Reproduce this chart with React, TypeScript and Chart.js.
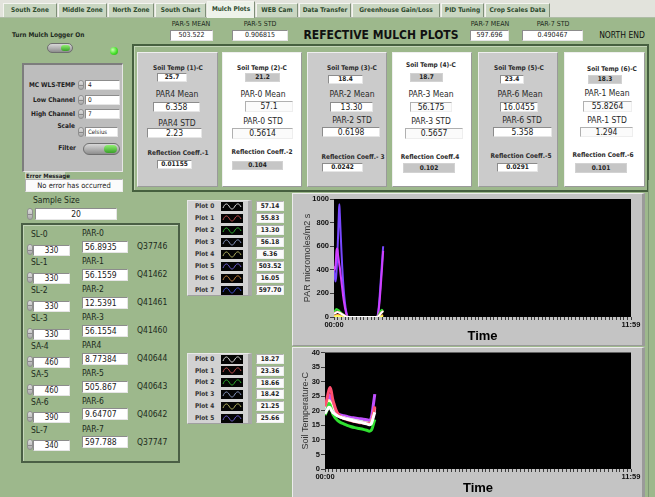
import React, { useEffect, useRef } from 'react';
import { Chart, registerables } from 'chart.js';
Chart.register(...registerables);

const FONT = '"DejaVu Sans Condensed", "DejaVu Sans", "Liberation Sans", sans-serif';
const GREEN = '#9db88c';
const TXT = '#1f2a1f';

// ---------- PAR chart data (minutes from 00:00) ----------
const PAR_TIME = [0, 2, 4, 6, 8, 10, 12, 13, 14, 16, 18, 20, 22, 25, 28, 31, 34, 40, 60, 80, 100, 104, 107, 110, 113, 116, 119];
const PAR_P0 = [25, 30, 35, 40, 42, 40, 38, 36, 34, 30, 26, 22, 18, 12, 6, 2, 0, 0, 0, 0, 0, 0, 5, 15, 28, 40, 50];
const PAR_P1 = [30, 34, 38, 42, 45, 43, 40, 38, 36, 32, 28, 24, 19, 13, 7, 3, 0, 0, 0, 0, 0, 0, 6, 16, 30, 42, 52];
const PAR_P2 = [40, 50, 60, 68, 65, 60, 55, 50, 46, 40, 34, 28, 22, 14, 7, 3, 0, 0, 0, 0, 0, 0, 10, 30, 50, 62, 45];
const PAR_P3 = [32, 36, 40, 45, 47, 45, 42, 40, 37, 33, 29, 24, 19, 13, 7, 3, 0, 0, 0, 0, 0, 0, 6, 17, 31, 44, 54];
const PAR_P4 = [4, 5, 6, 7, 8, 7, 7, 6, 6, 5, 4, 3, 2, 1, 1, 0, 0, 0, 0, 0, 0, 0, 1, 2, 4, 5, 6];
const PAR_P5 = [430, 400, 450, 560, 580, 520, 470, 440, 420, 360, 300, 240, 180, 110, 55, 15, 0, 0, 0, 0, 0, 0, 30, 120, 250, 400, 560];
const PAR_P6 = [10, 12, 14, 16, 18, 17, 16, 15, 14, 12, 10, 8, 6, 4, 2, 1, 0, 0, 0, 0, 0, 0, 2, 5, 9, 13, 16];
const PAR_P7 = [400, 330, 300, 380, 520, 700, 900, 955, 880, 720, 560, 420, 300, 170, 80, 25, 0, 0, 0, 0, 0, 0, 40, 150, 300, 450, 600];
const PAR_SERIES = [PAR_P0, PAR_P1, PAR_P2, PAR_P3, PAR_P4, PAR_P5, PAR_P6, PAR_P7];
const PAR_COLORS = ['#ffffff', '#ff5050', '#30e030', '#a0b8ff', '#ffff60', '#d040ff', '#ff9a40', '#7848ff'];
const PAR_LEGEND_VALUES = ['57.14', '55.83', '13.30', '56.18', '6.36', '503.52', '16.05', '597.70'];

// ---------- Soil temperature chart data ----------
const TEMP_TIME = [0, 3, 6, 9, 12, 15, 18, 22, 26, 30, 36, 44, 52, 60, 70, 80, 90, 98, 104, 108, 111, 114, 117];
const TEMP_P0 = [19.0, 19.8, 20.5, 21.2, 21.0, 20.2, 19.5, 19.0, 18.6, 18.2, 17.8, 17.4, 17.1, 16.8, 16.4, 16.1, 15.8, 15.5, 15.2, 15.4, 16.5, 18.0, 19.5];
const TEMP_P1 = [21.5, 23.0, 25.0, 27.0, 28.0, 26.5, 24.0, 22.0, 20.2, 19.0, 18.0, 17.4, 17.0, 16.6, 16.3, 16.0, 15.8, 15.6, 15.5, 15.9, 17.2, 19.2, 21.5];
const TEMP_P2 = [18.5, 19.5, 21.0, 22.5, 22.0, 20.5, 19.0, 18.0, 17.2, 16.6, 16.0, 15.5, 15.0, 14.6, 14.2, 13.9, 13.6, 13.3, 13.0, 13.2, 14.0, 15.5, 17.0];
const TEMP_P3 = [19.5, 20.5, 21.5, 22.0, 21.5, 20.5, 19.8, 19.2, 18.7, 18.3, 17.9, 17.5, 17.2, 16.9, 16.6, 16.3, 16.0, 15.7, 15.5, 15.8, 17.0, 18.8, 20.5];
const TEMP_P4 = [20.0, 21.0, 22.5, 23.5, 23.0, 21.8, 20.5, 19.6, 19.0, 18.5, 18.0, 17.6, 17.3, 17.0, 16.7, 16.4, 16.1, 15.9, 15.7, 16.0, 17.2, 19.0, 21.0];
const TEMP_P5 = [20.5, 22.0, 24.0, 25.5, 25.0, 23.0, 21.5, 20.3, 19.5, 19.0, 18.6, 18.3, 18.0, 17.7, 17.5, 17.3, 17.1, 16.9, 16.7, 17.2, 19.3, 22.5, 25.7];
const TEMP_SERIES = [TEMP_P0, TEMP_P1, TEMP_P2, TEMP_P3, TEMP_P4, TEMP_P5];
const TEMP_COLORS = ['#ffffff', '#ff5070', '#30e030', '#c8d4ff', '#ffffc8', '#c050ff'];
const TEMP_LEGEND_VALUES = ['18.27', '23.36', '18.66', '18.42', '21.25', '25.66'];
const LEGEND_SWATCH = ['#d8d8d8', '#c05050', '#30b030', '#8898c0', '#b0b060', '#7060d0', '#c08040', '#4050d0'];

// ---------- axis ----------
const X_TICK_LABELS = ['00:00', '11:59'];
const X_END = 719;
const X_MINOR: number[] = [];
for (let m = 0; m < X_END - 4; m += 9) X_MINOR.push(m);
X_MINOR.push(X_END);

// ---------- panel texts ----------
const TABS = ['South Zone', 'Middle Zone', 'North Zone', 'South Chart', 'Mulch Plots', 'WEB Cam', 'Data Transfer', 'Greenhouse  Gain/Loss', 'PID Tuning', 'Crop Scales Data'];
const TAB_EDGES = [3, 58, 108, 155, 207, 256, 299, 352, 441, 485, 551];
const ACTIVE_TAB = 4;

const SOIL_LABELS = ['Soil Temp (1)-C', 'Soil Temp (2)-C', 'Soil Temp (3)-C', 'Soil Temp (4)-C', 'Soil Temp (5)-C', 'Soil Temp (6)-C'];
const SOIL_VALUES = ['25.7', '21.2', '18.4', '18.7', '23.4', '18.3'];
const MEAN_LABELS = ['PAR4 Mean', 'PAR-0 Mean', 'PAR-2 Mean', 'PAR-3 Mean', 'PAR-6 Mean', 'PAR-1 Mean'];
const MEAN_VALUES = ['6.358', '57.1', '13.30', '56.175', '16.0455', '55.8264'];
const STD_LABELS = ['PAR4 STD', 'PAR-0 STD', 'PAR-2 STD', 'PAR-3 STD', 'PAR-6 STD', 'PAR-1 STD'];
const STD_VALUES = ['2.23', '0.5614', '0.6198', '0.5657', '5.358', '1.294'];
const REFL_LABELS = ['Reflection Coeff.-1', 'Reflection Coeff.-2', 'Reflection Coeff.- 3', 'Reflection Coeff.4', 'Reflection Coeff.-5', 'Reflection Coeff.-6'];
const REFL_VALUES = ['0.01155', '0.104', '0.0242', '0.102', '0.0291', '0.101'];

const SL_LABELS = ['SL-0', 'SL-1', 'SL-2', 'SL-3', 'SA-4', 'SA-5', 'SA-6', 'SL-7'];
const SL_VALUES = ['330', '330', '330', '330', '460', '460', '390', '340'];
const PAR_LABELS = ['PAR-0', 'PAR-1', 'PAR-2', 'PAR-3', 'PAR4', 'PAR-5', 'PAR-6', 'PAR-7'];
const PAR_VALUES = ['56.8935', '56.1559', '12.5391', '56.1554', '8.77384', '505.867', '9.64707', '597.788'];
const Q_LABELS = ['Q37746', 'Q41462', 'Q41461', 'Q41460', 'Q40644', 'Q40643', 'Q40642', 'Q37747'];

// ---------- card layout ----------
const CARD_LEFT = [137, 222, 307, 392, 478, 564];
const CARD_W = [81, 80, 80, 80, 80, 81];
const SOIL_LBL = [[178, 68], [262, 68], [352, 68], [431, 65], [519, 68], [612, 69]];
const SOIL_BOX = [[157, 73, 30, 9], [245, 73, 35, 9], [328, 75, 35, 9], [410, 73, 33, 9], [500, 75, 24, 9], [588, 75, 34, 9]];
const MEAN_LBL = [[177, 95], [263, 95], [352, 95], [431, 95], [520, 95], [607, 94]];
const MEAN_BOX = [[153, 102, 47, 10], [245, 101, 48, 11], [330, 102, 43, 10], [410, 102, 42, 10], [500, 102, 38, 10], [583, 101, 49, 11]];
const STD_LBL = [[177, 124], [263, 122], [352, 121], [431, 122], [522, 121], [607, 121]];
const STD_BOX = [[147, 128, 55, 10], [232, 128, 61, 11], [322, 127, 58, 10], [405, 128, 58, 11], [493, 127, 59, 10], [580, 127, 53, 10]];
const REFL_LBL = [[178, 153], [262, 152], [353, 157], [430, 157], [521, 156], [603, 155]];
const REFL_BOX = [[157, 160, 35, 9], [232, 161, 51, 9], [322, 163, 41, 9], [403, 163, 52, 10], [497, 163, 41, 9], [575, 163, 52, 10]];

type CSS = React.CSSProperties;

function Txt(props: { x: number; y: number; text: string; size?: number; bold?: boolean; align?: 'left' | 'center' | 'right'; color?: string; font?: string; w?: number }) {
  const { x, y, text, size = 8, bold = false, align = 'left', color = TXT, font = FONT, w = 200 } = props;
  let left = x;
  if (align === 'center') left = x - w / 2;
  if (align === 'right') left = x - w;
  const h = size * 1.3;
  return (
    <div style={{ position: 'absolute', left, top: y - h / 2, width: w, height: h, lineHeight: `${h}px`, fontSize: size, fontWeight: bold ? 700 : 400, textAlign: align, color, fontFamily: font, whiteSpace: 'nowrap' }}>{text}</div>
  );
}

function VBox(props: { x: number; y: number; w: number; h: number; text: string; kind?: 'ctrl' | 'ind' | 'gray'; size?: number; bold?: boolean; align?: 'left' | 'center' | 'right'; pad?: number }) {
  const { x, y, w, h, text, kind = 'ctrl', size = 7, bold = false, align = 'center', pad = 2 } = props;
  let st: CSS = {};
  if (kind === 'ctrl') st = { background: '#ffffff', borderTop: '1px solid #8c8c8c', borderLeft: '1px solid #8c8c8c', borderRight: '1px solid #e6e6e6', borderBottom: '1px solid #e6e6e6' };
  if (kind === 'ind') st = { background: '#fbfbfb', borderTop: '1px solid #b0b0b0', borderLeft: '1px solid #b0b0b0', borderRight: '1px solid #eeeeee', borderBottom: '1px solid #eeeeee' };
  if (kind === 'gray') st = { background: '#c6c6c6', border: '1px solid #d2d2d2' };
  return (
    <div style={{ position: 'absolute', left: x, top: y, width: w, height: h, boxSizing: 'border-box', ...st, fontFamily: FONT, fontSize: size, fontWeight: bold ? 700 : 400, color: '#222', textAlign: align, lineHeight: `${h - 2}px`, paddingLeft: align === 'left' ? pad : 0, whiteSpace: 'nowrap', overflow: 'hidden' }}>{text}</div>
  );
}

function Spin({ x, y, h }: { x: number; y: number; h: number }) {
  return (
    <div style={{ position: 'absolute', left: x, top: y, width: 6, height: h, boxSizing: 'border-box', border: '1px solid #8f8f8f', borderRadius: 3, background: 'linear-gradient(#e0e0e0,#a8a8a8)' }}>
      <div style={{ position: 'absolute', left: 0, right: 0, top: h / 2 - 1, height: 1, background: '#888' }} />
    </div>
  );
}

function Toggle({ x, y, w, h }: { x: number; y: number; w: number; h: number }) {
  return (
    <div style={{ position: 'absolute', left: x, top: y, width: w, height: h, boxSizing: 'border-box', borderRadius: h / 2, border: '1px solid #6f6f6f', background: 'linear-gradient(#d8d8d8,#8e8e8e)' }}>
      <div style={{ position: 'absolute', right: 2, top: 1, width: w * 0.35, height: h - 4, borderRadius: (h - 4) / 2, background: 'linear-gradient(#8ff070,#3aa02a)' }} />
    </div>
  );
}

function Swatch({ color }: { color: string }) {
  return (
    <svg width={22} height={9} style={{ display: 'block', background: '#050505' }}>
      <path d="M2,6 C4,1 6,1 8,4 C10,8 12,8 14,4 C16,1 18,1 20,5" stroke={color} strokeWidth={1} fill="none" />
    </svg>
  );
}

function Legend({ x, y, rows, step, values }: { x: number; y: number; rows: number; step: number; values: string[] }) {
  const h = rows * step;
  const items = [];
  for (let i = 0; i < rows; i++) {
    const cy = y + 6 + i * step;
    items.push(
      <React.Fragment key={i}>
        <Txt x={x + 8} y={cy} text={`Plot ${i}`} size={6.5} bold color="#333" />
        <div style={{ position: 'absolute', left: x + 34, top: cy - 4.5 }}><Swatch color={LEGEND_SWATCH[i]} /></div>
        <VBox x={x + 69} y={cy - 5} w={28} h={10} text={values[i]} kind="ind" size={6.5} bold />
      </React.Fragment>
    );
  }
  return (
    <>
      <div style={{ position: 'absolute', left: x, top: y, width: 65, height: h, boxSizing: 'border-box', background: '#d2d2d2', borderTop: '1px solid #e8e8e8', borderLeft: '1px solid #e8e8e8', borderRight: '4px solid #a9a9a9', borderBottom: '1px solid #a0a0a0' }} />
      {items}
    </>
  );
}

const blackArea = {
  id: 'blackArea',
  beforeDraw(chart: any) {
    const { ctx, chartArea } = chart;
    if (!chartArea) return;
    ctx.save();
    ctx.fillStyle = '#000000';
    ctx.fillRect(chartArea.left, chartArea.top, chartArea.right - chartArea.left, chartArea.bottom - chartArea.top);
    ctx.restore();
  },
};

type ChartProps = { left: number; top: number; w: number; h: number; times: number[]; series: number[][]; colors: string[]; yMax: number; yStep: number; yTitle: string; yWidth: number; padTop: number; yTitlePad: number; lineWidth: number };

function LvChart(p: ChartProps) {
  const ref = useRef<HTMLCanvasElement>(null);
  useEffect(() => {
    const el = ref.current;
    if (!el) return;
    const chart = new Chart(el, {
      type: 'line',
      data: {
        datasets: p.series.map((s, i) => ({
          label: `Plot ${i}`,
          data: s.map((v, j) => ({ x: p.times[j], y: v })),
          borderColor: p.colors[i],
          backgroundColor: p.colors[i],
          borderWidth: p.lineWidth,
          pointRadius: 0,
          cubicInterpolationMode: 'monotone' as const,
          fill: false,
        })),
      },
      options: {
        animation: false,
        responsive: false,
        maintainAspectRatio: false,
        layout: { padding: { top: p.padTop, right: 12, left: 0, bottom: 0 } },
        plugins: { legend: { display: false }, tooltip: { enabled: false } },
        scales: {
          x: {
            type: 'linear',
            min: 0,
            max: X_END,
            afterBuildTicks: (axis: any) => { axis.ticks = X_MINOR.map((v) => ({ value: v })); },
            afterFit: (s: any) => { s.height = 28; },
            grid: { display: true, drawOnChartArea: false, tickLength: 3, color: '#3c3c3c', lineWidth: 1 },
            border: { display: false },
            ticks: {
              autoSkip: false,
              maxRotation: 0,
              padding: 0,
              color: '#111',
              font: { family: '"Liberation Sans", sans-serif', size: 7.5, weight: 'bold' },
              callback: (v: any) => (v === 0 ? X_TICK_LABELS[0] : v === X_END ? X_TICK_LABELS[1] : ''),
            },
            title: { display: true, text: 'Time', color: '#000', font: { family: '"Liberation Sans", sans-serif', size: 13, weight: 'bold' }, padding: { top: 0, bottom: 1 } },
          },
          y: {
            type: 'linear',
            min: 0,
            max: p.yMax,
            afterFit: (s: any) => { s.width = p.yWidth; },
            grid: { display: true, drawOnChartArea: false, tickLength: 4, color: '#3c3c3c' },
            border: { display: false },
            ticks: { stepSize: p.yStep, padding: 1, color: '#111', font: { family: '"Liberation Sans", sans-serif', size: 7.5, weight: 'bold' }, callback: (v: any) => String(v) },
            title: { display: true, text: p.yTitle, color: '#333', font: { family: '"Liberation Sans", sans-serif', size: 9 }, padding: { top: p.yTitlePad, bottom: 0 } },
          },
        },
      },
      plugins: [blackArea],
    } as any);
    return () => chart.destroy();
  }, []);
  return <canvas ref={ref} width={p.w} height={p.h} style={{ position: 'absolute', left: p.left, top: p.top, width: p.w, height: p.h }} />;
}

export default function App() {
  const cards = CARD_LEFT.map((left, i) => {
    const white = i % 2 === 1;
    const sb = SOIL_BOX[i], mb = MEAN_BOX[i], tb = STD_BOX[i], rb = REFL_BOX[i];
    return (
      <React.Fragment key={i}>
        <div style={{ position: 'absolute', left, top: 52, width: CARD_W[i], height: 135, boxSizing: 'border-box', background: white ? '#ffffff' : '#cbcbcb', borderTop: '1px solid #efefef', borderLeft: '1px solid #efefef', borderRight: '1px solid #9a9a9a', borderBottom: '1px solid #9a9a9a' }} />
        <Txt x={SOIL_LBL[i][0]} y={SOIL_LBL[i][1]} text={SOIL_LABELS[i]} size={6.5} bold align="center" w={80} color="#2a2a2a" />
        <VBox x={sb[0]} y={sb[1]} w={sb[2]} h={sb[3]} text={SOIL_VALUES[i]} kind={white ? 'gray' : 'ctrl'} size={6.5} bold />
        <Txt x={MEAN_LBL[i][0]} y={MEAN_LBL[i][1]} text={MEAN_LABELS[i]} size={8.5} align="center" w={80} color="#2a2a2a" />
        <VBox x={mb[0]} y={mb[1]} w={mb[2]} h={mb[3]} text={MEAN_VALUES[i]} kind={white ? 'ind' : 'ctrl'} size={8.5} />
        <Txt x={STD_LBL[i][0]} y={STD_LBL[i][1]} text={STD_LABELS[i]} size={8.5} align="center" w={80} color="#2a2a2a" />
        <VBox x={tb[0]} y={tb[1]} w={tb[2]} h={tb[3]} text={STD_VALUES[i]} kind={white ? 'ind' : 'ctrl'} size={8.5} />
        <Txt x={REFL_LBL[i][0]} y={REFL_LBL[i][1]} text={REFL_LABELS[i]} size={6.5} bold align="center" w={84} color="#2a2a2a" />
        <VBox x={rb[0]} y={rb[1]} w={rb[2]} h={rb[3]} text={REFL_VALUES[i]} kind={white ? 'gray' : 'ctrl'} size={6.5} bold />
      </React.Fragment>
    );
  });

  const rows = SL_LABELS.map((lbl, i) => {
    const by = 241 + i * 27.9;
    return (
      <React.Fragment key={i}>
        <Txt x={31} y={by - 6} text={lbl} size={8.5} color="#1c2a1c" />
        <Spin x={27} y={by + 3} h={11} />
        <VBox x={33} y={by + 4} w={37} h={11} text={SL_VALUES[i]} kind="ctrl" size={8} />
        <Txt x={82} y={by - 7} text={PAR_LABELS[i]} size={8.5} color="#1c2a1c" />
        <VBox x={82} y={by} w={46} h={12} text={PAR_VALUES[i]} kind="ctrl" size={8.5} align="left" pad={2} />
        <Txt x={137} y={by + 6} text={Q_LABELS[i]} size={8.5} color="#1c2a1c" />
      </React.Fragment>
    );
  });

  const tabs = TABS.map((t, i) => {
    const l = TAB_EDGES[i], r = TAB_EDGES[i + 1];
    const act = i === ACTIVE_TAB;
    return (
      <div key={i} style={{ position: 'absolute', left: l, top: act ? 1 : 3, width: r - l - 1, height: act ? 17 : 14, boxSizing: 'border-box', background: act ? '#eef3ea' : '#c9d6c1', borderTop: '1px solid #f4f4f0', borderLeft: '1px solid #f4f4f0', borderRight: '1px solid #7f8f78', fontFamily: FONT, fontSize: 6.5, fontWeight: 700, color: '#2d4a2d', textAlign: 'center', lineHeight: act ? '14px' : '12px', whiteSpace: 'nowrap' }}>{t}</div>
    );
  });

  return (
    <div style={{ position: 'fixed', left: 0, top: 0, width: 655, height: 497, background: GREEN, overflow: 'hidden', fontFamily: FONT }}>
      {/* tab strip */}
      <div style={{ position: 'absolute', left: 0, top: 0, width: 655, height: 17, background: '#e2e3dc', borderBottom: '1px solid #aebca6' }} />
      {tabs}

      {/* header */}
      <Txt x={12} y={35} text="Turn Mulch Logger On" size={6.5} bold color="#1c2a1c" />
      <Toggle x={47} y={43} w={26} h={10} />
      <div style={{ position: 'absolute', left: 110, top: 47, width: 8, height: 8, borderRadius: 4, background: 'radial-gradient(circle at 35% 35%, #c8ffb0, #46e02a 55%, #2a9a1a)' }} />

      <Txt x={191} y={25} text="PAR-5 MEAN" size={7} align="center" w={60} color="#1c2a1c" />
      <VBox x={170} y={30} w={43} h={11} text="503.522" kind="ctrl" size={7} />
      <Txt x={260} y={25} text="PAR-5 STD" size={7} align="center" w={60} color="#1c2a1c" />
      <VBox x={232} y={30} w={56} h={11} text="0.906815" kind="ctrl" size={7} />
      <Txt x={381} y={36} text="REFECTIVE MULCH PLOTS" size={12} bold align="center" w={170} color="#111" />
      <Txt x={490} y={25} text="PAR-7 MEAN" size={7} align="center" w={60} color="#1c2a1c" />
      <VBox x={470} y={30} w={39} h={11} text="597.696" kind="ctrl" size={7} />
      <Txt x={553} y={25} text="PAR-7 STD" size={7} align="center" w={60} color="#1c2a1c" />
      <VBox x={522} y={30} w={61} h={11} text="0.490467" kind="ctrl" size={7} />
      <Txt x={622} y={36} text="NORTH END" size={8.5} align="center" w={60} color="#111" />

      {/* settings panel */}
      <div style={{ position: 'absolute', left: 22, top: 63, width: 101, height: 109, boxSizing: 'border-box', background: '#bdbdbd', borderTop: '2px solid #7d7d7d', borderLeft: '2px solid #7d7d7d', borderRight: '1px solid #e6e6e6', borderBottom: '1px solid #e6e6e6' }} />
      <Txt x={75} y={85} text="MC WLS-TEMP" size={6.5} bold align="right" w={60} color="#222" />
      <Spin x={78} y={80} h={10} />
      <VBox x={85} y={80} w={35} h={10} text="4" kind="ctrl" size={6.5} align="left" />
      <Txt x={75} y={100} text="Low Channel" size={6.5} bold align="right" w={60} color="#222" />
      <Spin x={78} y={95} h={10} />
      <VBox x={85} y={95} w={35} h={10} text="0" kind="ctrl" size={6.5} align="left" />
      <Txt x={75} y={114} text="High Channel" size={6.5} bold align="right" w={60} color="#222" />
      <Spin x={78} y={109} h={10} />
      <VBox x={85} y={109} w={35} h={10} text="7" kind="ctrl" size={6.5} align="left" />
      <Txt x={75} y={126} text="Scale" size={6.5} bold align="right" w={60} color="#222" />
      <Spin x={78} y={127} h={10} />
      <VBox x={85} y={127} w={33} h={10} text="Celsius" kind="ctrl" size={6} align="left" />
      <Txt x={76} y={148} text="Filter" size={6.5} bold align="right" w={60} color="#222" />
      <Toggle x={83} y={143} w={37} h={12} />

      <div style={{ position: 'absolute', left: 25, top: 172, width: 40, height: 8, background: '#c9d3c2' }} />
      <Txt x={26} y={176} text="Error Message" size={6} bold color="#222" />
      <VBox x={25} y={179} w={98} h={13} text="No error has occurred" kind="ind" size={7.5} />

      {/* cards panel */}
      <div style={{ position: 'absolute', left: 132, top: 44, width: 517, height: 148, boxSizing: 'border-box', border: '2px solid #46603f', boxShadow: 'inset 1px 1px 0 #c4d6b8' }} />
      {cards}

      {/* sample size */}
      <Txt x={33} y={201} text="Sample Size" size={8.5} color="#1c2a1c" />
      <Spin x={27} y={208} h={12} />
      <VBox x={35} y={208} w={82} h={12} text="20" kind="ctrl" size={8.5} />

      {/* channel list panel */}
      <div style={{ position: 'absolute', left: 21, top: 223, width: 159, height: 240, boxSizing: 'border-box', border: '2px solid #4a5f45', boxShadow: 'inset 1px 1px 0 #c4d6b8' }} />
      {rows}

      {/* legends */}
      <Legend x={187} y={200} rows={8} step={12} values={PAR_LEGEND_VALUES} />
      <Legend x={187} y={353} rows={6} step={11.8} values={TEMP_LEGEND_VALUES} />

      {/* chart panels */}
      <div style={{ position: 'absolute', left: 292, top: 193, width: 353, height: 153, boxSizing: 'border-box', background: '#c4c4c4', borderTop: '1px solid #ececec', borderLeft: '1px solid #ececec', borderRight: '3px solid #9a9a9a', borderBottom: '1px solid #9a9a9a' }} />
      <div style={{ position: 'absolute', left: 292, top: 347, width: 353, height: 152, boxSizing: 'border-box', background: '#c4c4c4', borderTop: '1px solid #ececec', borderLeft: '1px solid #ececec', borderRight: '3px solid #9a9a9a' }} />
      <div style={{ position: 'absolute', left: 648, top: 180, width: 1, height: 317, background: '#7f9876' }} />

      <LvChart left={293} top={193} w={350} h={152} times={PAR_TIME} series={PAR_SERIES} colors={PAR_COLORS} yMax={1000} yStep={100} yTitle="PAR micromoles/m2 s" yWidth={41} padTop={6} yTitlePad={9} lineWidth={2} />
      <LvChart left={293} top={347} w={350} h={150} times={TEMP_TIME} series={TEMP_SERIES} colors={TEMP_COLORS} yMax={40} yStep={5} yTitle="Soil Temperature-C" yWidth={32} padTop={5} yTitlePad={7.5} lineWidth={3} />
    </div>
  );
}
